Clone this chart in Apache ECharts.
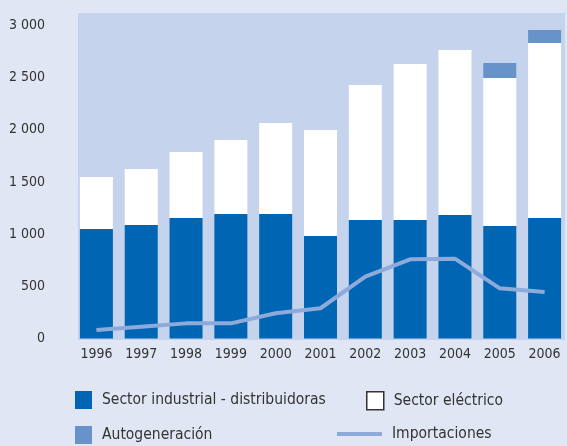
<!DOCTYPE html>
<html><head><meta charset="utf-8">
<script src="https://cdn.jsdelivr.net/npm/echarts@6/dist/echarts.min.js"></script>
<style>html,body{margin:0;padding:0;background:#e0e6f3;}#c{width:567px;height:446px;}</style>
</head><body><div id="c"></div>
<script>
const years = ['1996','1997','1998','1999','2000','2001','2002','2003','2004','2005','2006'];
const industrial = [1050,1088,1155,1193,1193,982,1136,1136,1184,1078,1155];
const electrico = [498,537,633,710,873,1016,1294,1495,1581,1419,1677];
const autogeneracion = [0,0,0,0,0,0,0,0,0,144,125];
const importaciones = [81,113,145,145,242,290,592,759,765,481,446];
const yTicks = [0,500,1000,1500,2000,2500,3000];

const FONT = '"Liberation Sans Narrow","DejaVu Sans Condensed",sans-serif';
const chart = echarts.init(document.getElementById('c'));
const legendBase = {orient:'horizontal', padding:0, itemWidth:17, itemHeight:18, itemGap:10, icon:'rect',
  textStyle:{fontFamily:FONT, fontSize:15.5, color:'#333', padding:[3,0,0,5]}};
chart.setOption({
  backgroundColor:'#e0e6f3',
  animation:false,
  graphic:[{type:'rect', z:-10, silent:true, shape:{x:78,y:13,width:487,height:327}, style:{fill:'#c5d3ec'}}],
  grid:{left:74, width:496, top:25.5, bottom:107.5},
  xAxis:{type:'category', data:years, axisLine:{show:false}, axisTick:{show:false},
    axisLabel:{fontFamily:FONT, fontSize:14, color:'#333', margin:9}},
  yAxis:{type:'value', min:0, max:3000, interval:500, splitLine:{show:false},
    axisLabel:{fontFamily:FONT, fontSize:14, color:'#333', margin:29,
      formatter:v=> yTicks.includes(v) ? String(v).replace(/\B(?=(\d{3})+(?!\d))/g,' ') : ''}},
  legend:[
    Object.assign({}, legendBase, {left:75, top:391, data:['Sector industrial - distribuidoras']}),
    Object.assign({}, legendBase, {left:366, top:391, data:[{name:'Sector eléctrico', itemStyle:{color:'#fff', borderColor:'#333', borderWidth:1.5}}]}),
    Object.assign({}, legendBase, {left:75, top:426, data:['Autogeneración']}),
    Object.assign({}, legendBase, {left:337, top:426, itemWidth:45, itemHeight:18,
      data:[{name:'Importaciones', icon:'path://M0,7 L45,7 L45,11 L0,11 Z'}]})
  ],
  series:[
    {name:'Sector industrial - distribuidoras', type:'bar', stack:'t', data:industrial, barWidth:33, itemStyle:{color:'#0066b3'}},
    {name:'Sector eléctrico', type:'bar', stack:'t', data:electrico, barWidth:33, itemStyle:{color:'#ffffff'}},
    {name:'Autogeneración', type:'bar', stack:'t', data:autogeneracion, barWidth:33, itemStyle:{color:'#6893ca'}},
    {name:'Importaciones', type:'line', data:importaciones, symbol:'none', z:5,
      lineStyle:{color:'#8eaadb', width:4}, itemStyle:{color:'#8eaadb'}}
  ]
});
</script></body></html>
